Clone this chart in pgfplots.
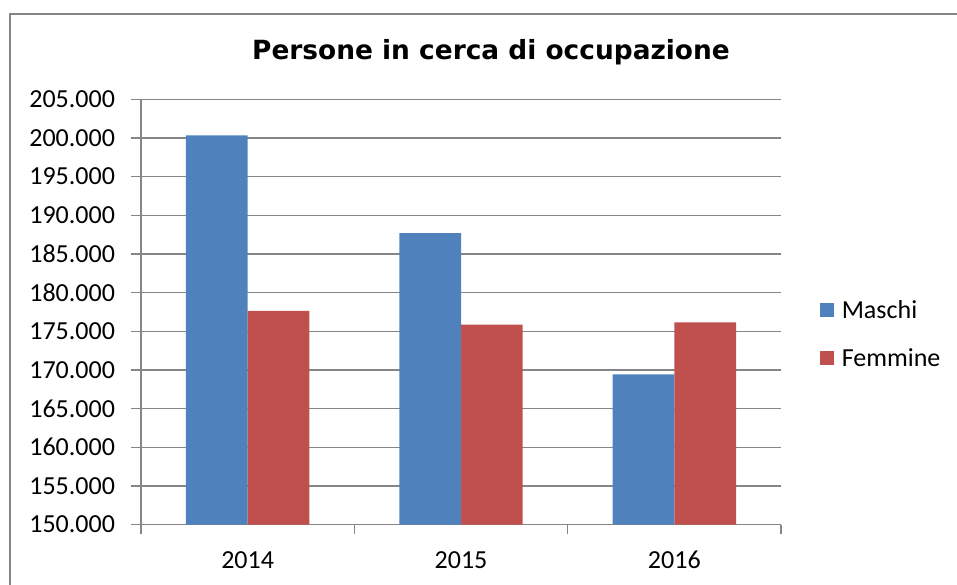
\documentclass[border=0pt]{standalone}
\usepackage{fontspec}
\setmainfont{Carlito}
\newfontfamily\titlefont{DejaVu Sans}
\usepackage{pgfplots}
\pgfplotsset{compat=1.18}
\definecolor{maschi}{HTML}{4F81BD}
\definecolor{femmine}{HTML}{C0504D}
\definecolor{gridgray}{HTML}{868686}
\begin{document}
\begin{tikzpicture}
\useasboundingbox (0pt,0pt) rectangle (957pt,-585pt);
\draw[gridgray, line width=1.5pt] (10pt,-590pt) -- (10pt,-14pt) -- (962pt,-14pt);
\node[anchor=base, font=\titlefont\bfseries\fontsize{26.4}{30}\selectfont, inner sep=0pt] at (491pt,-60pt) {Persone in cerca di occupazione};
\begin{axis}[
  at={(141pt,-524.6pt)}, anchor=south west,
  scale only axis, width=640pt, height=425.3pt,
  ybar=0pt, bar width=61.7pt,
  xmin=-0.5, xmax=2.5, ymin=150000, ymax=205000,
  xtick={-0.5,0.5,1.5,2.5}, xticklabels={2014,2015,2016},
  x tick label as interval,
  ytick={150000,155000,160000,165000,170000,175000,180000,185000,190000,195000,200000,205000},
  scaled y ticks=false,
  yticklabel style={xshift=-13pt, /pgf/number format/.cd, fixed, precision=0, 1000 sep={.}, assume math mode=true},
  xticklabel style={anchor=north, yshift=-17pt, text height=17pt, text depth=0pt, inner sep=0pt},
  ticklabel style={font=\fontsize{26}{31}\selectfont},
  axis x line*=bottom, axis y line*=left,
  axis line style={gridgray, line width=1.3pt, -},
  ymajorgrids, grid style={gridgray, line width=1.3pt},
  tick align=outside, major tick length=9.5pt,
  tick style={gridgray, line width=1.3pt},
  legend style={at={(1.061,0.45)}, anchor=west, draw=none, fill=none, inner sep=0pt, outer sep=0pt,
    row sep=29.5pt, column sep=7.7pt, font=\fontsize{26}{31}\selectfont,
    nodes={inner sep=0pt, text height=19pt, text depth=0pt}},
  legend cell align=left,
  legend image code/.code={\fill[#1] (0pt,-7.8pt) rectangle (14pt,6.2pt);},
]
\addplot[fill=maschi, draw=none] coordinates {(0,200340) (1,187680) (2,169440)};
\addplot[fill=femmine, draw=none] coordinates {(0,177630) (1,175860) (2,176160)};
\legend{Maschi,Femmine}
\end{axis}
\end{tikzpicture}
\end{document}
